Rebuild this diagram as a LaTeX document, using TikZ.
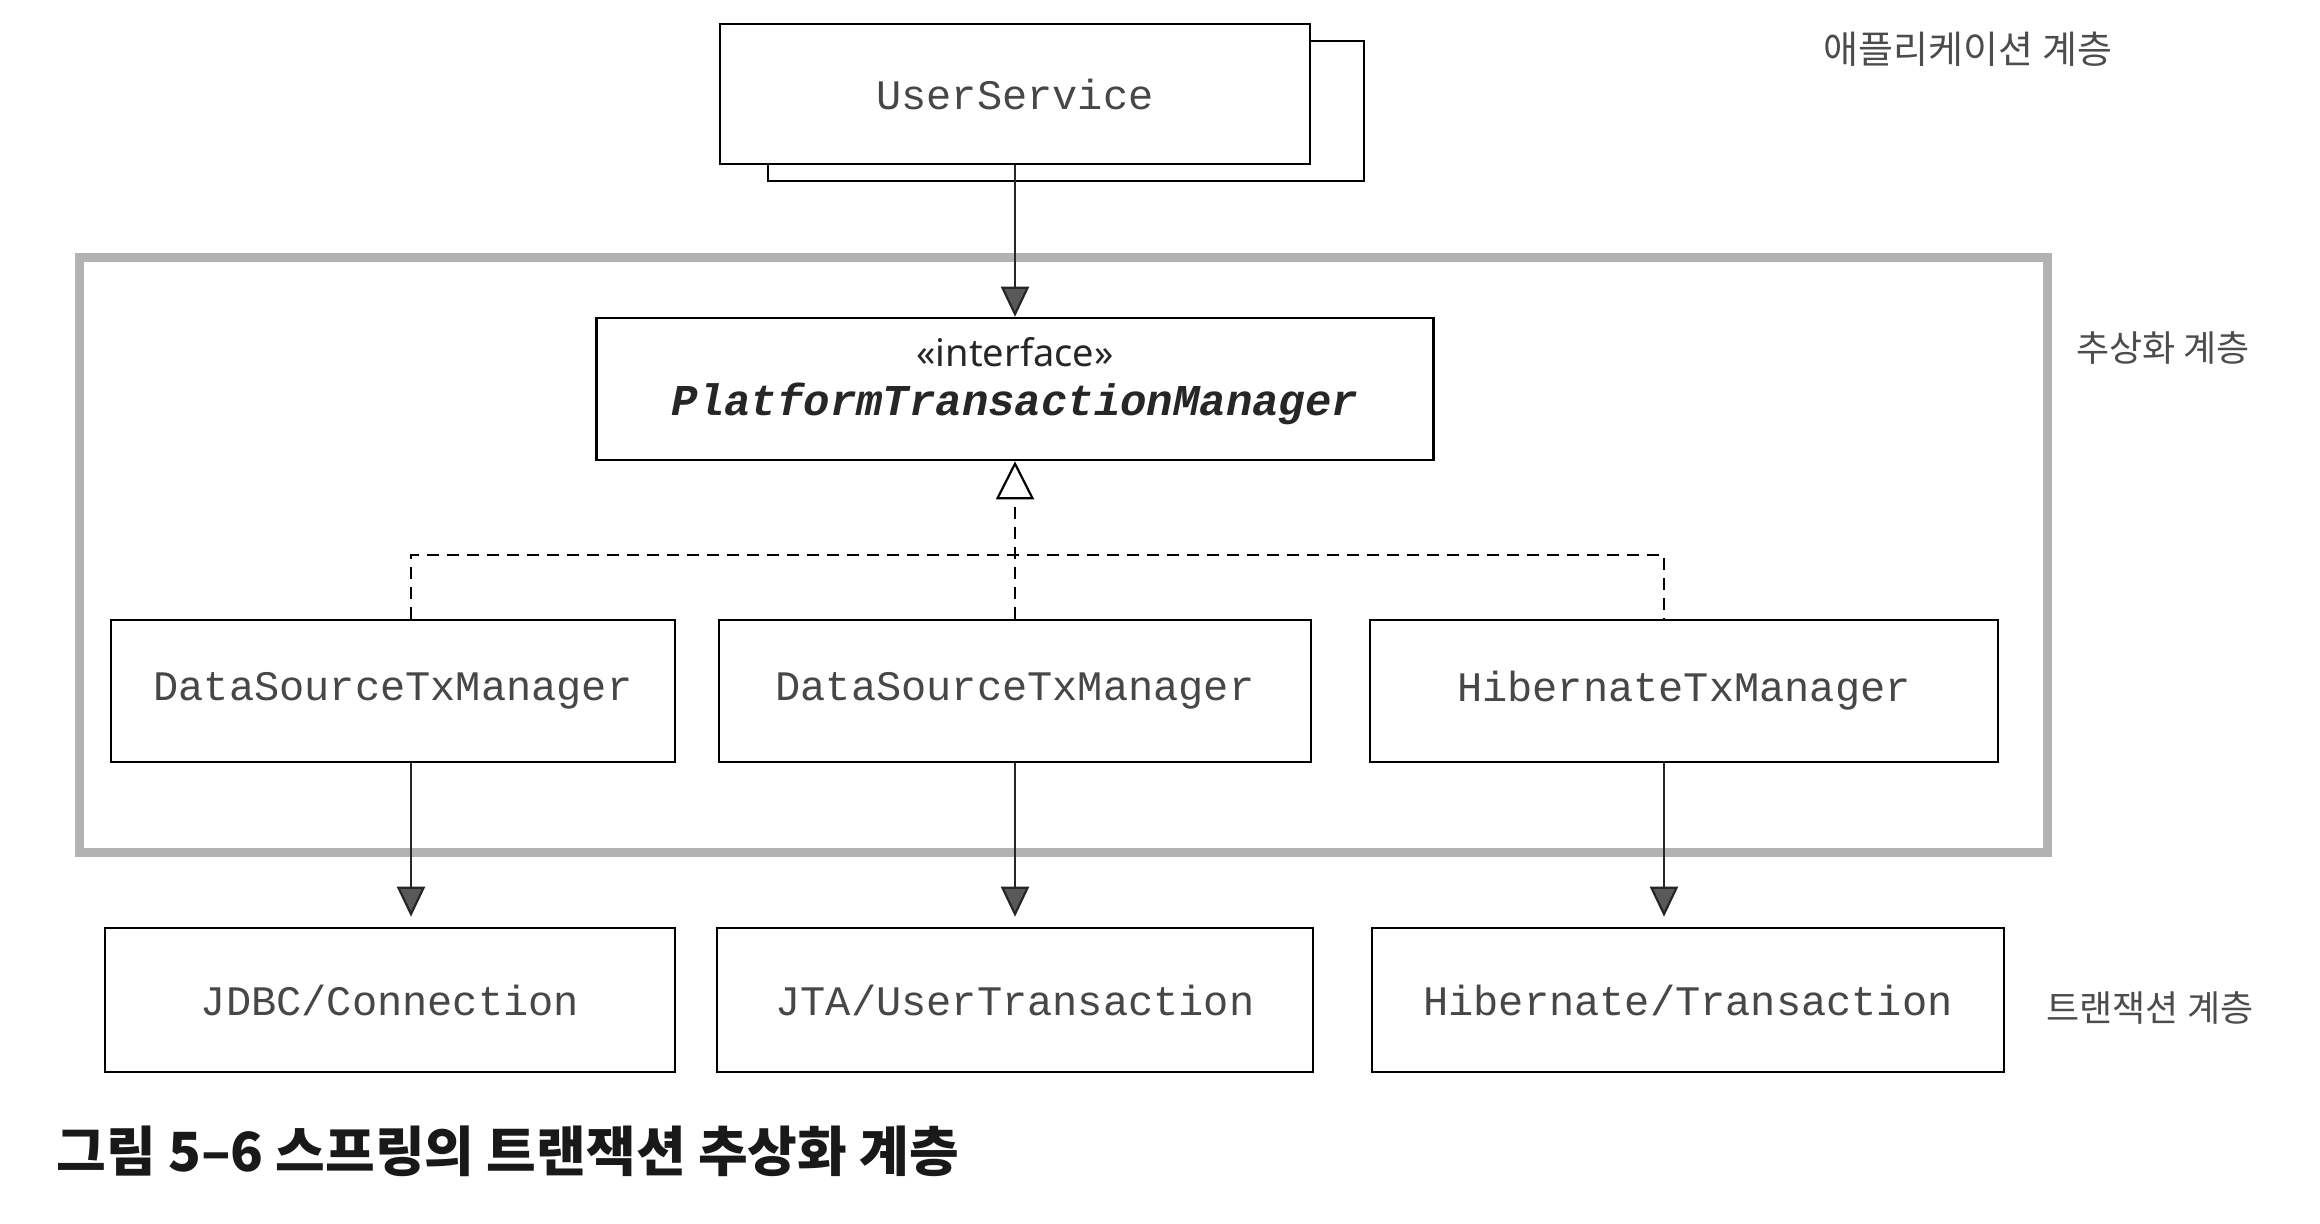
\documentclass[tikz,border=0pt]{standalone}
\usepackage{fontspec}
\setmainfont{Liberation Sans}
\setmonofont{Liberation Mono}
\newfontfamily\cjk{Noto Sans CJK KR}
\newfontfamily\stereo{Noto Sans}
\usetikzlibrary{arrows.meta}

\begin{document}
\begin{tikzpicture}[x=0.5pt,y=-0.5pt,
  box/.style={draw=black, line width=1.3pt, fill=white, inner sep=0pt,
    font=\ttfamily\fontsize{21}{25}\selectfont, text=black!72},
  layerframe/.style={draw=gray!60, line width=4.5pt, inner sep=0pt},
  flow/.style={line width=1.1pt, draw=black!85,
    -{Triangle[width=14pt,length=15pt,fill=gray!70!black]}},
  impl/.style={line width=1pt, dash pattern=on 6pt off 4pt},
  layer/.style={font=\cjk\fontsize{18}{22}\selectfont, text=black!70},
]
\useasboundingbox (0,0) rectangle (2320,1224);
\fill[white] (0,0) rectangle (2320,1224);

% abstraction layer frame
\node[layerframe, minimum width=984pt, minimum height=297pt] (abs) at (1063,555) {};

% application layer
\node[box, minimum width=298pt, minimum height=70pt] (usback) at (1066,111) {};
\node[box, minimum width=295pt, minimum height=70pt] (us) at (1015,94) {UserService};

% interface
\node[box, minimum width=418.5pt, minimum height=71pt] (ptm) at (1015,389) {};
\node[font=\stereo\fontsize{19}{23}\selectfont, text=black!85, inner sep=0pt] (ptmst) at (1015,352) {«interface»};
\node[font=\ttfamily\bfseries\itshape\fontsize{22}{26}\selectfont, text=black!85, inner sep=0pt] (ptmname) at (1015,404) {PlatformTransactionManager};

% implementations
\node[box, minimum width=282pt, minimum height=71pt] (ds1) at (393,691) {DataSourceTxManager};
\node[box, minimum width=296pt, minimum height=71pt] (ds2) at (1015,691) {DataSourceTxManager};
\node[box, minimum width=314pt, minimum height=71pt] (hib) at (1684,691) {HibernateTxManager};

% transaction layer
\node[box, minimum width=285pt, minimum height=72pt] (jdbc) at (390,1000) {JDBC/Connection};
\node[box, minimum width=298pt, minimum height=72pt] (jta) at (1015,1000) {JTA/UserTransaction};
\node[box, minimum width=316pt, minimum height=72pt] (hibt) at (1688,1000) {Hibernate/Transaction};

% columns
\coordinate (c1) at (411,555);
\coordinate (c3) at (1664,555);

% connectors
\draw[flow] (us.south) -- (ptm.north);
\draw[impl, -{Triangle[open, width=19pt, length=19pt, line width=1.1pt, fill=white]}] (ds2.north) -- (ptm.south);
\draw[impl] (ds1.north -| c1) -- (c1) -- (c3) -- (hib.north -| c3);
\draw[flow, shorten >=5pt] (ds1.south -| c1) -- (jdbc.north -| c1);
\draw[flow, shorten >=5pt] (ds2.south) -- (jta.north);
\draw[flow, shorten >=5pt] (hib.south -| c3) -- (hibt.north -| c3);

% layer labels
\node[layer, font=\cjk\fontsize{19}{23}\selectfont] (lapp) at (1968,49) {애플리케이션 계층};
\node[layer] (labs) at (2163,348) {추상화 계층};
\node[layer] (ltx) at (2150,1008) {트랜잭션 계층};

% caption
\node[anchor=west, inner sep=0pt, font=\cjk\bfseries\fontsize{27}{32}\selectfont, text=black!90] (cap) at (56,1151) {그림 5–6 스프링의 트랜잭션 추상화 계층};
\end{tikzpicture}
\end{document}
